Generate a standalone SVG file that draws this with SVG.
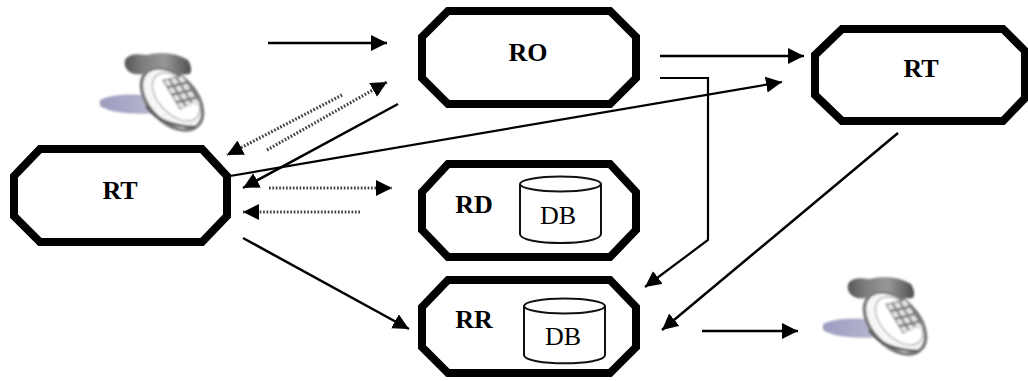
<svg xmlns="http://www.w3.org/2000/svg" width="1028" height="381" viewBox="0 0 1028 381">
<style>
.n{fill:#fff;stroke:#000;stroke-width:8}
.c{fill:#fff;stroke:#111;stroke-width:2}
.b{font:bold 26px "Liberation Serif",serif;fill:#000;text-anchor:middle}
.r{font:26px "Liberation Serif",serif;fill:#000;text-anchor:middle}
.s{fill:none;stroke:#000;stroke-width:2.5}
.t{fill:none;stroke:#000;stroke-width:2.2}
.d{fill:none;stroke:#444;stroke-width:3.2;stroke-dasharray:1.7 1.7}
</style>
<defs>
<marker id="a" markerUnits="userSpaceOnUse" markerWidth="18" markerHeight="18" refX="16" refY="8" orient="auto"><path d="M0 0L16 8L0 16z" fill="#000"/></marker>
<filter id="bl" x="-10%" y="-10%" width="120%" height="120%"><feGaussianBlur stdDeviation="1.3"/></filter>
<linearGradient id="sh" x1="0" x2="1" y1="0" y2="0"><stop offset="0" stop-color="#9c9cc0"/><stop offset=".6" stop-color="#b8b8d0"/><stop offset="1" stop-color="#eeeef4"/></linearGradient>
<linearGradient id="hs" x1="0" x2="1" y1="0" y2="0"><stop offset="0" stop-color="#565658"/><stop offset=".25" stop-color="#7c7c7e"/><stop offset=".6" stop-color="#98989a"/><stop offset="1" stop-color="#505052"/></linearGradient>
<g id="phone" filter="url(#bl)">
<path d="M100 100Q115 93 145 95L195 122Q180 125 160 113Q115 116 100 106Z" fill="url(#sh)"/>
<ellipse cx="172" cy="99" rx="37" ry="23" transform="rotate(46 172 99)" fill="#f6f6f7" stroke="#777" stroke-width="3.500"/>
<ellipse cx="176" cy="97" rx="29" ry="17" transform="rotate(46 176 97)" fill="#fff" stroke="#bbb" stroke-width="1.500"/>
<path d="M146 106Q160 126 195 127" fill="none" stroke="#555" stroke-width="2.500"/>
<path d="M125 60Q129 52 146 55Q170 49 188 60Q193 68 190 74Q176 76 170 69Q158 66 150 69Q146 76 134 74Q123 70 125 60Z" fill="url(#hs)"/>
<path d="M162 80L183 75L201 98L180 110Z" fill="#7c7c7e"/>
<g fill="#e4e4e4" transform="matrix(7 -1.700 4.500 7.500 162 80)"><rect x=".15" y=".15" width=".7" height=".7"/><rect x="1.150" y=".15" width=".7" height=".7"/><rect x="2.150" y=".15" width=".7" height=".7"/><rect x=".15" y="1.150" width=".7" height=".7"/><rect x="1.150" y="1.150" width=".7" height=".7"/><rect x="2.150" y="1.150" width=".7" height=".7"/><rect x=".15" y="2.150" width=".7" height=".7"/><rect x="1.150" y="2.150" width=".7" height=".7"/><rect x="2.150" y="2.150" width=".7" height=".7"/><rect x=".15" y="3.150" width=".7" height=".7"/><rect x="1.150" y="3.150" width=".7" height=".7"/><rect x="2.150" y="3.150" width=".7" height=".7"/></g>
</g>
</defs>
<use href="#phone"/>
<use href="#phone" x="723" y="224"/>
<g id="connectors">
<path class="s" marker-end="url(#a)" d="M268 43H387"/>
<path class="s" marker-end="url(#a)" d="M660 56H804"/>
<path class="t" marker-end="url(#a)" d="M660 78H708V240L645 287"/>
<path class="t" marker-end="url(#a)" d="M230 176L782 82"/>
<path class="s" marker-end="url(#a)" d="M398 104L243 188"/>
<path class="s" marker-end="url(#a)" d="M898 133L662 330"/>
<path class="s" marker-end="url(#a)" d="M243 238L409 329"/>
<path class="s" marker-end="url(#a)" d="M702 331H798"/>
<path class="d" marker-end="url(#a)" d="M342 95L227 155"/>
<path class="d" marker-end="url(#a)" d="M267 150L387 82"/>
<path class="d" marker-end="url(#a)" d="M269 188H392"/>
<path class="d" marker-end="url(#a)" d="M360 212H243"/>
</g>
<g id="ro"><path class="n" d="M448 11H610L636 37V78L610 104H448L422 78V37Z"/><text class="b" x="528" y="61">RO</text></g>
<g id="rt-right"><path class="n" d="M842 29H1003L1025 51V98L1003 121H842L815 95V55Z"/><text class="b" x="921" y="77">RT</text></g>
<g id="rt-left"><path class="n" d="M40 149H202L227 176V216L202 242H40L14 216V176Z"/><text class="b" x="120" y="199">RT</text></g>
<g id="rd"><path class="n" d="M448 164H610L636 192V230L610 257H448L422 230V192Z"/><text class="b" x="474" y="213">RD</text>
<path class="c" d="M520 184V234C520 246 601 246 601 234V184"/><ellipse class="c" cx="560.500" cy="184" rx="40.500" ry="7.500"/><text class="r" x="558" y="224">DB</text></g>
<g id="rr"><path class="n" d="M448 280H610L636 307V347L610 373H448L422 347V307Z"/><text class="b" x="474" y="328">RR</text>
<path class="c" d="M524 306V355C524 366 605 366 605 355V306"/><ellipse class="c" cx="564.500" cy="306" rx="40.500" ry="7.500"/><text class="r" x="563" y="345">DB</text></g>
</svg>
